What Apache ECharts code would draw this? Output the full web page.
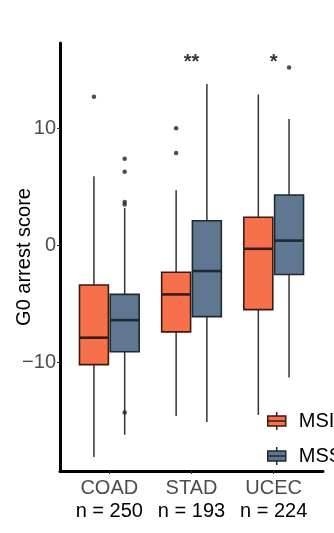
<!DOCTYPE html>
<html>
<head>
<meta charset="utf-8">
<script src="https://cdn.jsdelivr.net/npm/echarts@6/dist/echarts.min.js"></script>
<style>
  html, body { margin: 0; padding: 0; background: #fff; }
  #chart { width: 334px; height: 533px; }
</style>
</head>
<body>
<div id="chart"></div>
<script>
// tumour types and sample sizes
const categories = ['COAD', 'STAD', 'UCEC'];
const counts = [250, 193, 224];
const groups = ['MSI', 'MSS'];
// box stats per category: [lower whisker, q1, median, q3, upper whisker]
const msiBoxes = [
  [-18.1, -10.2, -7.9, -3.4, 5.9],
  [-14.6, -7.4, -4.2, -2.3, 4.7],
  [-14.5, -5.5, -0.3, 2.4, 12.9]
];
const mssBoxes = [
  [-16.2, -9.1, -6.4, -4.2, 3.2],
  [-15.1, -6.1, -2.2, 2.1, 13.8],
  [-11.3, -2.5, 0.4, 4.3, 10.8]
];
// outliers: [category index, value]
const msiOutliers = [[0, 12.7], [1, 10.0], [1, 7.9]];
const mssOutliers = [[0, 7.4], [0, 6.3], [0, 3.7], [0, 3.5], [0, -14.3], [2, 15.2]];
// significance marks above each category
const significance = ['', '**', '*'];
const sigLevel = 15.6;
const yTicks = [-10, 0, 10];

const fills = { MSI: '#F6714B', MSS: '#5F7790' };
const borders = { MSI: '#3b1b10', MSS: '#1e2932' };
const dodge = 0.187;   // half the dodge distance
const halfW = 0.176;   // half box width

function boxData(boxes, off) {
  return boxes.map(function (b, i) {
    return [i + 1 + off].concat(b);
  });
}

function renderBox(group) {
  return function (params, api) {
    const x = api.value(0);
    const lo = api.coord([x, api.value(1)]);
    const q1 = api.coord([x, api.value(2)]);
    const md = api.coord([x, api.value(3)]);
    const q3 = api.coord([x, api.value(4)]);
    const hi = api.coord([x, api.value(5)]);
    const l = api.coord([x - halfW, 0])[0];
    const r = api.coord([x + halfW, 0])[0];
    const wStyle = { stroke: '#333', lineWidth: 1.5 };
    return {
      type: 'group',
      children: [
        { type: 'line', shape: { x1: lo[0], y1: lo[1], x2: q1[0], y2: q1[1] }, style: wStyle },
        { type: 'line', shape: { x1: q3[0], y1: q3[1], x2: hi[0], y2: hi[1] }, style: wStyle },
        { type: 'rect', shape: { x: l, y: q3[1], width: r - l, height: q1[1] - q3[1] },
          style: { fill: fills[group], stroke: borders[group], lineWidth: 1.6 } },
        { type: 'line', shape: { x1: l, y1: md[1], x2: r, y2: md[1] },
          style: { stroke: borders[group], lineWidth: 2.6 } }
      ]
    };
  };
}

function outlierData(list, off) {
  return list.map(function (o) { return [o[0] + 1 + off, o[1]]; });
}

const chart = echarts.init(document.getElementById('chart'));
chart.setOption({
  animation: false,
  textStyle: { fontFamily: 'Liberation Sans, Arial, sans-serif' },
  grid: { left: 60, right: 11, top: 43, bottom: 62, containLabel: false, outerBoundsMode: 'none' },
  xAxis: {
    type: 'value',
    min: 0.4,
    max: 3.6,
    splitLine: { show: false },
    axisLine: { show: true, onZero: false, lineStyle: { color: '#000', width: 3 } },
    axisTick: { show: true, customValues: [1, 2, 3], length: 3, lineStyle: { color: '#333', width: 1 } },
    axisLabel: {
      customValues: [1, 2, 3],
      margin: 6,
      formatter: function (v) {
        return '{a|' + categories[v - 1] + '}\n{b|n = ' + counts[v - 1] + '}';
      },
      rich: {
        a: { fontSize: 20, color: '#4d4d4d', lineHeight: 23 },
        b: { fontSize: 20, color: '#000', lineHeight: 23 }
      }
    }
  },
  yAxis: {
    type: 'value',
    min: -19.3,
    max: 17.3,
    name: 'G0 arrest score',
    nameLocation: 'middle',
    nameGap: 26,
    nameMoveOverlap: false,
    nameTextStyle: { fontSize: 20, color: '#000' },
    splitLine: { show: false },
    axisLine: { show: true, onZero: false, lineStyle: { color: '#000', width: 3 } },
    axisTick: { show: true, customValues: yTicks, length: 3, lineStyle: { color: '#333', width: 1 } },
    axisLabel: {
      customValues: yTicks,
      fontSize: 20,
      color: '#4d4d4d',
      margin: 4,
      formatter: function (v) { return String(v).replace('-', '\u2212'); }
    }
  },
  legend: {
    orient: 'vertical',
    left: 262,
    top: 406,
    itemWidth: 18,
    itemHeight: 18,
    itemGap: 15,
    icon: 'path://M0,4H18V14H0Z M0,9H18 M9,0V4 M9,14V18',
    textStyle: { fontSize: 20, color: '#000', padding: [0, 0, 0, 8] },
    data: groups.map(function (g) {
      return { name: g, itemStyle: { color: fills[g], borderColor: borders[g], borderWidth: 1.5 } };
    })
  },
  series: [
    {
      name: 'MSI', type: 'custom', renderItem: renderBox('MSI'),
      itemStyle: { color: fills.MSI }, encode: { x: 0, y: [1, 2, 3, 4, 5] },
      data: boxData(msiBoxes, -dodge)
    },
    {
      name: 'MSS', type: 'custom', renderItem: renderBox('MSS'),
      itemStyle: { color: fills.MSS }, encode: { x: 0, y: [1, 2, 3, 4, 5] },
      data: boxData(mssBoxes, dodge)
    },
    {
      name: 'MSI outliers', type: 'scatter', symbolSize: 4.5,
      itemStyle: { color: '#222' }, data: outlierData(msiOutliers, -dodge)
    },
    {
      name: 'MSS outliers', type: 'scatter', symbolSize: 4.5,
      itemStyle: { color: '#222' }, data: outlierData(mssOutliers, dodge)
    },
    {
      name: 'significance', type: 'scatter', symbolSize: 0,
      data: significance.map(function (s, i) { return [i + 1, sigLevel]; }),
      label: {
        show: true, position: 'inside', fontSize: 20, fontWeight: 'bold', color: '#000',
        formatter: function (p) { return significance[p.dataIndex]; }
      }
    }
  ]
});
</script>
</body>
</html>
